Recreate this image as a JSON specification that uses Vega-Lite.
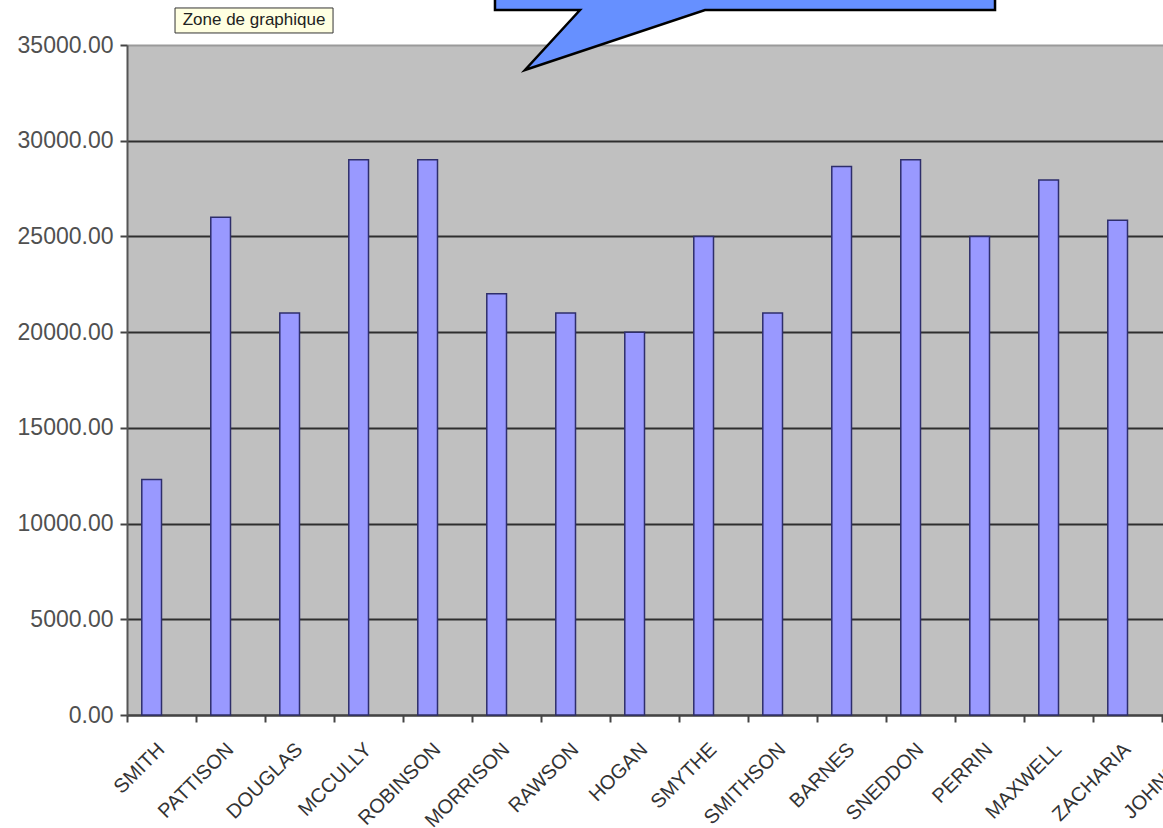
{
  "$schema": "https://vega.github.io/schema/vega-lite/v6.json",
  "autosize": {"type": "none"},
  "width": 1036,
  "height": 670,
  "padding": {"left": 127, "top": 45, "right": 0, "bottom": 113},
  "background": "#ffffff",
  "config": {"view": {"fill": "#C0C0C0", "stroke": null}},
  "datasets": {
    "sales": [
      {"name": "SMITH", "series": "S1", "value": 12300},
      {"name": "PATTISON", "series": "S1", "value": 26000},
      {"name": "DOUGLAS", "series": "S1", "value": 21000},
      {"name": "MCCULLY", "series": "S1", "value": 29000},
      {"name": "ROBINSON", "series": "S1", "value": 29000},
      {"name": "MORRISON", "series": "S1", "value": 22000},
      {"name": "RAWSON", "series": "S1", "value": 21000},
      {"name": "HOGAN", "series": "S1", "value": 20000},
      {"name": "SMYTHE", "series": "S1", "value": 25000},
      {"name": "SMITHSON", "series": "S1", "value": 21000},
      {"name": "BARNES", "series": "S1", "value": 28650},
      {"name": "SNEDDON", "series": "S1", "value": 29000},
      {"name": "PERRIN", "series": "S1", "value": 25000},
      {"name": "MAXWELL", "series": "S1", "value": 27950},
      {"name": "ZACHARIA", "series": "S1", "value": 25850},
      {"name": "JOHNSON", "series": "S1", "value": 26000}
    ],
    "callout": [
      {"i": 1, "X": 5.333, "Y": 38500},
      {"i": 2, "X": 5.333, "Y": 36828},
      {"i": 3, "X": 6.565, "Y": 36828},
      {"i": 4, "X": 5.768, "Y": 33694},
      {"i": 5, "X": 8.377, "Y": 36828},
      {"i": 6, "X": 12.58, "Y": 36828},
      {"i": 7, "X": 12.58, "Y": 38500}
    ],
    "tip": [
      {"x": 0.696, "x2": 2.986, "y": 36934, "y2": 35628, "xm": 1.841, "ym": 36281, "label": "Zone de graphique"}
    ]
  },
  "layer": [
    {
      "data": {"name": "sales"},
      "mark": {"type": "bar", "fill": "#9999FF", "stroke": "#2E2E6B", "strokeWidth": 1.5},
      "encoding": {
        "x": {
          "field": "name", "type": "nominal", "sort": null,
          "scale": {"range": [0, 1104], "paddingInner": 0, "paddingOuter": 0},
          "axis": {
            "orient": "bottom", "title": null, "ticks": false, "tickSize": 0, "labelAngle": -45,
            "labelAlign": "right", "labelBaseline": "middle", "labelPadding": 31,
            "labelFont": "Liberation Sans", "labelFontSize": 20, "labelColor": "#333333",
            "labelOverlap": false, "labelBound": false,
            "domain": true, "domainColor": "#444444", "domainWidth": 2, "grid": false
          }
        },
        "xOffset": {
          "field": "series", "type": "nominal",
          "scale": {"domain": ["S1", "S2"], "paddingInner": 0, "paddingOuter": 0.75}
        },
        "y": {
          "field": "value", "type": "quantitative",
          "scale": {"domain": [0, 35000], "nice": false},
          "axis": {
            "title": null, "values": [0, 5000, 10000, 15000, 20000, 25000, 30000, 35000],
            "format": ".2f", "labelFont": "Liberation Sans", "labelFontSize": 23, "labelColor": "#505050",
            "labelPadding": 7, "tickSize": 7, "tickColor": "#444444", "tickWidth": 2,
            "domainColor": "#555555", "domainWidth": 2,
            "grid": true, "gridWidth": 2,
            "gridColor": {"condition": {"test": "datum.value == 35000", "value": "#9a9a9a"}, "value": "#2e2e2e"}
          }
        }
      }
    },
    {
      "data": {"name": "sales"},
      "mark": {"type": "rule", "opacity": 0},
      "encoding": {
        "x": {
          "field": "name", "type": "nominal", "sort": null,
          "scale": {"range": [0, 1104], "paddingInner": 0, "paddingOuter": 0},
          "axis": {
            "orient": "bottom", "title": null, "labels": false, "domain": false, "grid": false,
            "ticks": true, "bandPosition": 0, "tickSize": 7, "tickColor": "#444444", "tickWidth": 2
          }
        }
      }
    },
    {
      "data": {"name": "callout"},
      "mark": {"type": "line", "interpolate": "linear-closed", "fill": "#6690FF", "stroke": "#000000", "strokeWidth": 2.5},
      "encoding": {
        "x": {"field": "X", "type": "quantitative", "scale": {"domain": [0, 16], "range": [0, 1104], "nice": false, "zero": false}, "axis": null},
        "y": {"field": "Y", "type": "quantitative", "title": null},
        "order": {"field": "i"}
      }
    },
    {
      "data": {"name": "tip"},
      "mark": {"type": "rect", "fill": "#FFFFE1", "stroke": "#333333", "strokeWidth": 1},
      "encoding": {
        "x": {"field": "x", "type": "quantitative", "scale": {"domain": [0, 16], "range": [0, 1104], "nice": false, "zero": false}, "axis": null},
        "x2": {"field": "x2"},
        "y": {"field": "y", "type": "quantitative", "title": null},
        "y2": {"field": "y2"}
      }
    },
    {
      "data": {"name": "tip"},
      "mark": {"type": "text", "font": "Liberation Sans", "fontSize": 17, "color": "#222222"},
      "encoding": {
        "x": {"field": "xm", "type": "quantitative", "scale": {"domain": [0, 16], "range": [0, 1104], "nice": false, "zero": false}, "axis": null},
        "y": {"field": "ym", "type": "quantitative", "title": null},
        "text": {"field": "label"}
      }
    }
  ],
  "resolve": {"scale": {"x": "independent"}, "axis": {"x": "independent"}}
}
